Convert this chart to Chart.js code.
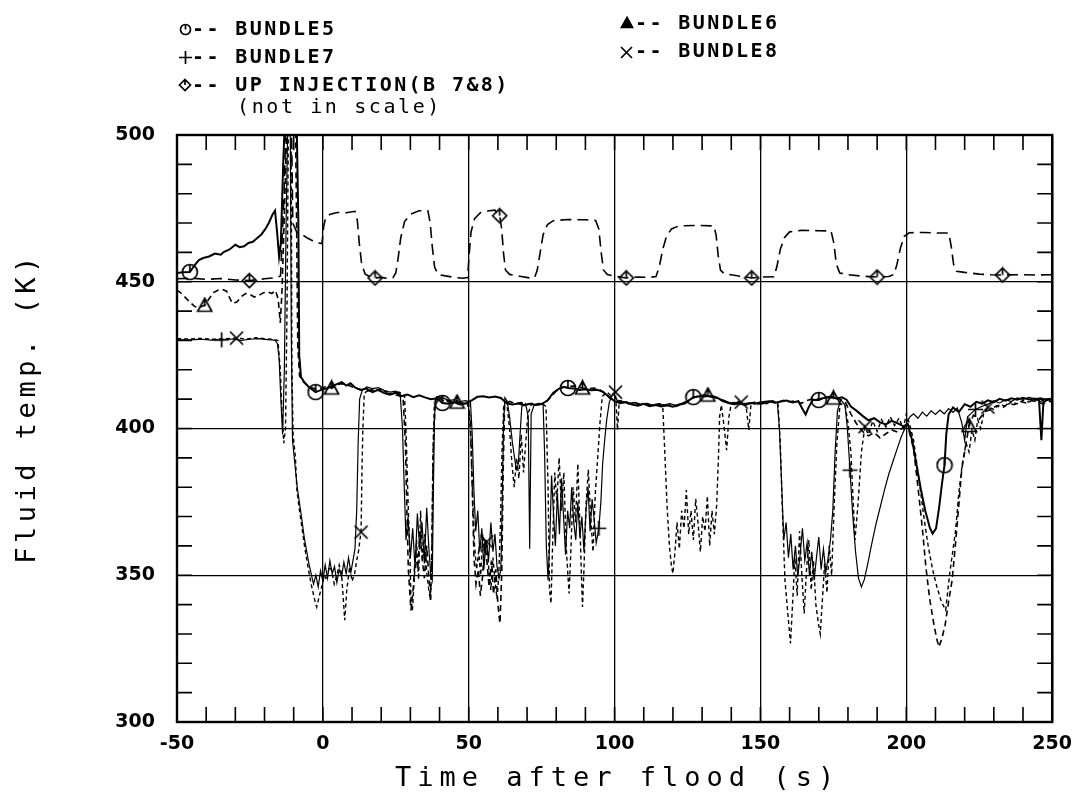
<!DOCTYPE html>
<html>
<head>
<meta charset="utf-8">
<script src="https://cdn.jsdelivr.net/npm/chart.js@4.4.1/dist/chart.umd.min.js"></script>
<style>
  html, body { margin: 0; padding: 0; background: #fff; }
</style>
</head>
<body>
<canvas id="fluidChart" width="1083" height="796"></canvas>
<script>
// time (s), fluid temperature (K)
var bundle5 = [[-50,453.0],[-48,453.2],[-45.6,453.3],[-44,455.6],[-42.5,457.4],[-41,458.1],[-39,458.6],[-37,459.6],[-35,459.2],[-34,460.1],[-32,461.0],[-30,462.6],[-28.5,461.8],[-27,462.1],[-25.5,463.2],[-24,463.6],[-22.5,464.9],[-21,466.2],[-19.5,468.3],[-18.5,470.1],[-17.3,472.8],[-16.4,474.2],[-15.6,466.0],[-15.0,458.5],[-14.4,463.0],[-13.6,490.0],[-13.0,506],[-9.0,506],[-8.4,470],[-8.1,425],[-7.5,417.5],[-6.5,416.0],[-5.0,414.3],[-2.5,412.4],[-1.0,413.0],[1.0,413.6],[3.0,414.3],[5.0,415.2],[6.5,415.8],[8.0,414.6],[9.5,415.4],[11.0,414.0],[13.0,413.1],[15.0,413.6],[17.0,412.4],[19.0,413.2],[21.0,412.1],[23.0,411.5],[25.0,412.2],[27.0,411.0],[29.0,411.6],[31.0,410.7],[33.0,411.3],[35.0,410.6],[37.0,410.0],[39.0,410.3],[41.0,408.7],[43.0,408.4],[45.0,408.9],[47.0,408.2],[49.0,408.5],[51.0,409.6],[53.0,410.8],[55.0,411.0],[57.0,410.6],[59.0,410.9],[61.0,410.4],[63.0,408.6],[65.0,408.2],[67.0,408.5],[69.0,407.9],[71.0,408.4],[73.0,408.0],[75.0,408.3],[77.0,409.5],[79.0,412.2],[81.0,413.6],[82.5,414.2],[84.0,413.8],[86.0,413.6],[88.0,413.1],[90.0,413.4],[92.0,413.0],[94.0,413.2],[96.0,412.6],[98.0,410.8],[100.0,409.3],[102.0,408.6],[104.0,409.0],[106.0,408.2],[108.0,407.8],[110.0,408.4],[112.0,407.6],[114.0,408.0],[116.0,407.5],[118.0,407.9],[120.0,407.4],[122.0,408.1],[124.0,408.5],[127.0,410.7],[129.0,410.9],[131.0,411.2],[133.0,410.8],[135.0,410.6],[137.0,409.4],[139.0,408.7],[141.0,408.3],[143.0,408.6],[145.0,408.2],[147.0,408.7],[149.0,408.4],[151.0,409.0],[153.0,409.3],[155.0,408.8],[157.0,409.2],[159.0,409.5],[161.0,408.9],[163.0,409.3],[164.5,406.5],[165.5,404.8],[166.5,407.2],[168.0,409.8],[170.0,409.7],[172.0,410.5],[174.0,410.9],[176.0,410.2],[178.0,410.6],[179.5,409.8],[181.0,407.5],[183.0,406.0],[185.0,404.3],[187.0,402.8],[189.0,403.5],[191.0,402.1],[193.0,401.4],[195.0,402.6],[197.0,401.8],[199.0,400.7],[200.5,401.5],[202.0,396.0],[203.5,387.5],[205.0,379.2],[206.5,372.0],[208.0,366.4],[209.0,364.2],[210.2,366.0],[211.3,373.5],[212.3,381.8],[213.1,387.5],[213.7,398.0],[214.5,404.8],[216.0,407.2],[218.0,405.6],[220.0,408.3],[222.0,407.4],[224.0,409.1],[226.0,408.5],[228.0,409.6],[230.0,409.0],[232.0,410.1],[234.0,409.5],[236.0,410.3],[238.0,409.8],[240.0,410.5],[242.0,409.9],[244.0,410.2],[245.5,409.6],[246.3,396.0],[247.0,409.0],[249.0,410.1],[250.0,409.8]];

var bundle6 = [[-50,447.2],[-48.5,446.0],[-47,444.5],[-45.5,443.0],[-44,441.6],[-42.5,441.2],[-40.5,442.0],[-39,444.2],[-37.5,446.3],[-36,447.1],[-34.5,447.4],[-33,446.8],[-32,444.6],[-31,442.6],[-29.5,443.1],[-28,444.9],[-26.5,446.0],[-25,445.7],[-23.5,444.8],[-22,445.3],[-20.5,446.2],[-19,446.6],[-17.5,446.0],[-16.2,447.0],[-15.3,444.0],[-14.6,436.0],[-14.0,447.0],[-13.0,480.0],[-12.3,506],[-9.4,506],[-9.0,470],[-8.6,428],[-8.0,418.0],[-7.0,416.2],[-5.5,414.8],[-4.0,414.0],[-2.0,413.2],[0.0,413.8],[1.5,414.6],[3.0,413.8],[4.5,414.4],[6.0,415.3],[8.0,415.0],[10.0,414.2],[12.0,413.5],[14.0,413.0],[16.0,412.8],[18.0,413.4],[20.0,412.6],[22.0,412.0],[24.0,411.6],[26.0,411.2],[27.5,410.5],[28.3,395.0],[28.8,372.0],[29.3,352.0],[30.2,338.0],[31.0,346.0],[31.8,358.0],[32.5,352.0],[33.3,365.0],[34.0,356.0],[34.8,349.0],[35.6,360.0],[36.3,350.0],[36.9,341.5],[37.4,360.0],[37.9,395.0],[38.5,408.5],[40.0,410.2],[42.0,409.6],[44.0,409.3],[46.0,409.0],[48.0,408.6],[49.5,408.9],[50.5,404.0],[51.2,380.0],[51.8,356.0],[52.5,347.0],[53.3,352.0],[54.0,343.0],[54.8,350.0],[55.5,362.0],[56.3,354.0],[57.0,346.0],[57.8,355.0],[58.5,343.5],[59.3,352.0],[60.0,340.0],[60.7,333.6],[61.3,350.0],[61.8,385.0],[62.3,408.0],[64.0,409.2],[66.0,408.5],[68,408.8],[70,408.2],[72,408.6],[74,408.1],[76,408.8],[78,410.5],[80,412.8],[82,413.9],[84,414.3],[86,414.5],[89,413.8],[91,413.5],[93,413.8],[95,413.1],[97,411.6],[99,410.2],[101,409.2],[103,408.9],[105,408.4],[107,408.7],[109,407.9],[111,408.2],[113,407.8],[115,408.3],[117,407.7],[119,408.0],[121,407.5],[123,408.3],[125,409.2],[127,410.4],[129,411.3],[132,411.4],[134,411.0],[136,409.8],[138,409.0],[140,408.5],[142,408.8],[144,408.1],[146,408.5],[148,408.9],[150,408.3],[152,408.8],[154,409.4],[156,409.0],[158,409.6],[160,409.1],[162,409.4],[164,408.6],[166,409.5],[168,410.2],[170,410.0],[172,410.6],[175,410.4],[177,410.1],[179,409.2],[181,405.0],[183,401.5],[185,399.0],[187,397.5],[189,398.6],[191,396.8],[193,398.2],[195,399.5],[197,398.8],[199,400.4],[201,399.0],[202.5,393.0],[204,380.0],[205.5,366.0],[206.7,352.9],[208,342.0],[209.5,333.0],[210.5,328.0],[211.2,325.6],[212.2,328.5],[213.3,333.0],[214.5,341.0],[215.7,348.3],[216.8,360.0],[218,374.0],[219,386.0],[220.3,393.8],[221.5,401.0],[223,404.5],[225,403.2],[227,405.8],[229,406.5],[231,407.8],[233,407.0],[235,408.6],[237,408.1],[239,409.2],[241,408.7],[243,409.5],[245,409.0],[247,408.4],[249,409.3],[250,409.0]];

var bundle7 = [[-50,430.3],[-46,430.2],[-42,430.4],[-38,430.1],[-34.7,430.2],[-31,430.5],[-28,430.0],[-25,430.4],[-22,430.6],[-19,430.3],[-16.5,430.1],[-15.6,429.0],[-15.0,424.0],[-14.4,410.0],[-13.8,398.0],[-13.2,420.0],[-12.6,470],[-12.0,506],[-11.2,506],[-10.8,430],[-10.4,396.0],[-9.6,388.0],[-8.8,380.0],[-8.0,374.5],[-7.2,369.0],[-6.4,363.0],[-5.6,358.5],[-4.8,354.0],[-4.0,350.5],[-3.2,347.0],[-2.4,350.0],[-1.6,346.0],[-0.8,351.5],[0.0,348.0],[0.8,353.5],[1.6,349.0],[2.4,355.0],[3.2,350.5],[4.0,353.0],[4.8,347.5],[5.6,352.0],[6.4,349.5],[7.2,354.5],[8.0,350.5],[8.8,356.0],[9.6,351.0],[10.4,355.5],[11.0,359.0],[11.6,372.0],[12.1,395.0],[12.6,410.0],[13.5,413.0],[15,414.2],[17,413.6],[19,413.9],[21,413.0],[23,412.4],[25,412.7],[26.5,411.8],[27.3,400.0],[27.9,380.0],[28.5,362.0],[29.2,370.0],[30.0,356.0],[30.8,366.0],[31.6,352.5],[32.4,371.0],[33.2,359.0],[34.0,368.0],[34.8,354.0],[35.6,373.0],[36.4,358.0],[37.0,350.0],[37.5,348.3],[37.9,380.0],[38.3,405.0],[39,410.8],[41,410.5],[43,409.6],[45,409.8],[47,409.2],[49,409.5],[50.6,409.0],[51.2,398.0],[51.8,378.0],[52.4,365.0],[53.1,372.0],[53.8,358.0],[54.5,366.0],[55.2,352.0],[56.0,362.0],[56.8,355.0],[57.6,368.0],[58.3,358.0],[59.0,364.0],[59.7,353.0],[60.4,349.0],[61.0,352.0],[61.5,375.0],[61.9,400.0],[62.4,410.5],[63.2,409.2],[64.0,404.0],[65.0,395.0],[66.3,386.0],[67.0,388.0],[67.6,398.0],[68.2,407.5],[69.5,408.5],[70.4,404.0],[70.9,359.0],[71.4,405.0],[72.5,408.2],[74,408.6],[75.5,408.0],[76.0,392.0],[76.6,360.0],[77.2,348.3],[77.8,362.0],[78.4,384.0],[79.0,372.0],[79.7,360.0],[80.4,378.0],[81.1,364.0],[81.8,383.0],[82.5,370.0],[83.2,357.0],[83.9,372.0],[84.6,366.0],[85.3,380.0],[86.0,368.0],[86.7,362.0],[87.4,375.0],[88.1,363.0],[88.8,370.0],[89.5,358.0],[90.2,372.0],[90.9,380.0],[91.6,365.0],[92.3,376.0],[93.0,369.0],[93.7,361.0],[94.6,366.0],[95.3,375.0],[95.9,388.0],[96.6,396.0],[97.3,403.0],[98.2,409.0],[99.5,412.0],[101,409.5],[103,409.2],[105,408.6],[107,408.9],[109,408.2],[111,408.6],[113,408.0],[115,408.4],[117,408.1],[119,408.5],[121,407.9],[123,408.6],[125,409.4],[127,410.6],[129,411.0],[131,410.8],[133,411.1],[135,410.4],[137.6,409.6],[140,408.6],[142,408.9],[144,408.3],[146,408.7],[148,408.5],[150,409.1],[152,408.7],[154,409.3],[155.8,408.8],[156.5,400.0],[157.3,380.0],[158.0,362.0],[158.8,368.0],[159.6,356.0],[160.4,364.0],[161.2,352.0],[162.0,360.0],[162.8,349.5],[163.6,357.0],[164.4,366.0],[165.2,355.0],[166.0,361.0],[166.8,350.0],[167.6,358.0],[168.4,348.3],[169.2,356.0],[170.0,363.0],[170.8,352.0],[171.6,359.0],[172.4,351.0],[173.2,356.0],[174.0,362.0],[174.8,372.0],[175.6,392.0],[176.4,406.0],[177.5,409.8],[179.0,408.0],[179.8,400.0],[180.7,385.8],[181.6,371.0],[182.6,358.0],[183.6,349.0],[184.6,346.0],[185.6,348.5],[186.8,354.0],[188.0,360.0],[189.5,367.0],[191.0,373.0],[192.5,379.0],[194.0,384.5],[195.5,389.0],[197.0,393.5],[198.2,397.0],[199.3,399.5],[200.3,402.5],[201.3,404.0],[202.5,405.0],[204.0,403.5],[205.5,405.6],[207.0,404.2],[208.5,406.0],[210.0,404.8],[211.5,406.3],[213.0,405.0],[214.5,406.8],[216.0,405.5],[217.5,407.0],[219.0,402.0],[220.0,396.0],[221.0,404.0],[223.7,406.5],[226.0,407.6],[228.0,408.3],[230.0,409.4],[232.0,408.7],[234.0,409.8],[236.0,409.2],[238.0,410.4],[240.0,409.9],[242.0,410.6],[244.0,410.1],[246.0,410.4],[248.0,409.8],[250.0,410.2]];

var bundle8 = [[-50,430.6],[-46,430.5],[-42,430.7],[-38,430.4],[-34,430.6],[-29.6,430.8],[-26,430.5],[-23,430.9],[-20,430.6],[-17,430.4],[-15.4,430.0],[-14.6,420.0],[-14.0,405.0],[-13.4,395.0],[-12.8,400.0],[-12.3,440],[-11.8,506],[-10.9,506],[-10.6,420],[-10.2,398.0],[-9.4,390.0],[-8.9,379.0],[-8.0,372.0],[-7.2,366.5],[-6.3,360.0],[-5.5,355.2],[-4.6,350.0],[-3.8,346.0],[-2.9,342.0],[-2.1,339.2],[-1.2,343.0],[-0.4,346.0],[0.5,350.0],[1.3,348.3],[2.2,353.0],[3.0,351.7],[3.9,347.0],[4.7,349.5],[5.6,353.5],[6.4,350.6],[7.0,342.0],[7.5,334.7],[8.2,345.0],[9.2,352.9],[10.0,348.0],[10.9,350.6],[11.6,355.0],[12.3,358.6],[12.7,362.0],[13.1,364.7],[13.4,385.0],[13.7,399.5],[14.2,412.0],[16.0,413.4],[18.0,412.9],[20.0,413.3],[22.0,412.3],[24.0,411.9],[26.0,412.4],[28.0,411.4],[28.6,396.0],[29.2,375.0],[29.8,358.0],[30.2,342.0],[30.7,338.0],[31.4,350.0],[32.1,362.0],[32.8,348.5],[33.5,372.0],[34.2,355.0],[34.9,364.0],[35.6,351.0],[36.3,345.0],[36.9,341.5],[37.3,355.0],[37.7,390.0],[38.2,408.0],[40,409.8],[42,409.4],[44,408.8],[46,409.1],[48,408.7],[50.0,408.4],[50.8,396.0],[51.4,375.0],[52.0,360.0],[52.7,352.0],[53.4,358.0],[54.1,350.0],[54.8,364.0],[55.5,358.0],[56.2,361.4],[56.9,352.0],[57.6,345.0],[58.3,356.0],[59.0,348.0],[59.7,342.0],[60.3,350.0],[60.9,368.0],[61.4,392.0],[62.0,407.5],[63.0,409.0],[64.0,400.0],[64.8,388.0],[65.6,380.0],[66.4,390.0],[67.2,383.0],[68.0,398.0],[68.8,385.0],[69.6,396.0],[70.3,405.0],[71.5,408.3],[73.0,408.1],[75.0,408.7],[76.5,407.5],[77.2,380.0],[77.7,345.0],[78.2,340.4],[78.8,362.0],[79.5,385.0],[80.2,375.0],[81.0,390.0],[81.8,372.0],[82.6,385.0],[83.4,360.0],[84.0,350.0],[84.4,343.8],[85.0,358.0],[85.8,380.0],[86.6,368.0],[87.4,388.0],[88.2,364.0],[88.7,348.0],[89.0,339.2],[89.5,352.0],[90.2,374.0],[91.0,386.0],[91.8,370.0],[92.6,358.0],[93.4,378.0],[94.2,390.0],[95.0,402.0],[95.8,411.0],[97.5,412.3],[99.0,411.0],[100.3,412.4],[101.0,399.5],[101.6,409.5],[103.0,409.2],[105.0,408.5],[107.0,408.8],[109.0,408.1],[111.0,408.5],[113.0,407.9],[115.0,408.6],[116.5,407.8],[117.3,390.0],[118.0,373.3],[118.8,360.0],[119.5,353.0],[120.0,350.6],[120.7,358.0],[121.4,368.0],[122.2,359.0],[123.0,372.0],[123.8,366.0],[124.6,379.0],[125.4,364.0],[126.2,372.0],[127.0,362.0],[127.8,376.0],[128.6,368.0],[129.4,358.0],[130.2,370.0],[131.0,365.0],[131.8,377.0],[132.6,360.0],[133.4,372.0],[134.2,364.0],[135.0,374.0],[135.6,390.0],[136.0,404.0],[136.6,408.0],[137.5,401.0],[138.4,392.6],[139.2,404.0],[140.0,408.5],[142.0,409.3],[143.4,409.0],[145.0,408.4],[146.0,399.5],[146.8,408.8],[148.5,408.2],[150.0,408.9],[152.0,408.4],[154.0,409.0],[156.0,408.7],[156.8,395.0],[157.6,370.0],[158.4,348.3],[159.3,338.0],[160.3,326.8],[161.0,340.0],[161.8,356.0],[162.6,343.0],[163.4,365.0],[164.2,350.0],[165.0,337.0],[165.8,352.0],[166.6,362.0],[167.4,345.0],[168.2,355.0],[169.0,340.0],[169.8,334.0],[170.5,330.0],[171.2,341.0],[172.0,354.0],[172.8,344.0],[173.6,360.0],[174.4,350.0],[175.2,372.0],[176.2,395.0],[177.3,408.5],[179.0,408.0],[180.0,402.0],[181.0,392.0],[182.4,362.0],[183.5,375.0],[184.6,392.0],[185.8,400.6],[187.0,398.0],[188.5,402.5],[190.0,399.0],[191.5,403.0],[193.0,400.5],[194.5,404.0],[196.0,401.0],[197.5,403.5],[199.0,400.0],[200.0,405.0],[201.0,402.0],[202.5,396.0],[204.4,382.4],[206.0,370.0],[207.5,360.0],[209.0,352.0],[210.5,346.0],[212.0,341.0],[213.5,338.1],[214.8,350.0],[215.9,358.0],[216.9,365.4],[218.0,378.0],[219.2,388.0],[220.5,395.0],[221.5,392.0],[222.5,399.5],[223.5,396.0],[224.5,403.0],[225.5,400.0],[226.5,405.0],[228.0,407.3],[230.0,406.5],[232.0,408.2],[234.0,407.6],[236.0,409.0],[238.0,408.4],[240.0,409.6],[242.0,409.0],[244.0,409.8],[246.0,409.2],[248.0,410.0],[250.0,409.5]];

// upper plenum injection, drawn on the same axis (not in scale)
var upInjection = [[-50,451],[-45,451.2],[-40,450.8],[-35,451.1],[-30,450.6],[-25.2,450.4],[-20,451],[-16,451.4],[-14.5,452],[-13.3,480],[-12.6,506],[-10.8,506],[-10.3,470],[-9,467],[-7.5,466.4],[-5.5,465],[-3.5,464],[-1.5,463.2],[-0.3,463],[0.3,469],[1,472],[2.5,473],[5,473.6],[8,473.5],[11,474],[11.8,471],[12.5,463],[13.3,456],[14.5,452.6],[16,451.8],[17.9,451.3],[20,451.5],[22,451.2],[24,451.4],[25,453],[25.8,458],[26.7,465],[28,470.5],[30,473],[33,474.2],[36,474.2],[36.8,470],[37.5,462],[38.3,455],[39.5,452.5],[42,452],[45,451.5],[48,451.2],[49.6,451.4],[50.2,460],[50.8,467],[52,471.5],[54,473.5],[57,474.2],[59,474.4],[60.6,472.5],[61.3,468],[61.9,460],[62.6,454],[64,452.5],[68,451.8],[71,451.3],[72.6,451.5],[73.5,454],[74.5,460],[75.5,466],[77,469.5],[79,470.8],[84,471.2],[90,471.1],[93.5,470.9],[94.6,468],[95.4,460],[96.2,454],[97.5,452.5],[100,451.9],[104,451.3],[108,451.6],[112,451.5],[114.2,451.8],[115.3,455],[116.5,461],[117.8,465.5],[119.5,468],[122,469],[128,469.2],[134,469],[134.8,466],[135.5,459],[136.3,454],[137.5,452.8],[141,452.2],[147,451.3],[151,451.6],[154.6,451.7],[155.6,455],[156.8,461],[158.2,465],[160,467],[164,467.5],[170,467.4],[174.2,467.3],[175.2,463],[176,456],[177.2,453],[180,452.4],[185,451.9],[190,451.6],[194,451.8],[195.8,452.5],[196.8,456],[198,461.5],[199.3,465.5],[201,466.7],[206,466.8],[211,466.6],[214.6,466.6],[215.4,462],[216.2,456],[217.2,453.6],[220,453.2],[225,452.6],[229,452.4],[233,452.3],[238,452.4],[244,452.3],[250,452.4]];

// times at which the plotter put a symbol on each curve
var bundle5Marks = [-45.6, -2.5, 41, 84, 127, 170, 213.1];
var bundle6Marks = [-40.5, 3, 46, 89, 132, 175, 221.5];
var bundle7Marks = [-34.7, 94.6, 180.7, 223.7];
var bundle8Marks = [-29.6, 13.1, 56.2, 100.3, 143.4, 185.8, 228];
var upMarks = [-25.2, 17.9, 60.6, 104, 147, 190, 233];

var xMin = -50, xMax = 250, yMin = 300, yMax = 500;

function toPoints(pairs) {
  return pairs.map(function (p) { return { x: p[0], y: p[1] }; });
}

// little plotter symbols, drawn once on off-screen canvases
function makeSymbol(kind, size, filled) {
  var c = document.createElement('canvas');
  c.width = size; c.height = size;
  var g = c.getContext('2d');
  var m = size / 2;
  g.strokeStyle = '#000';
  g.fillStyle = '#000';
  g.lineWidth = 1.7;
  g.beginPath();
  if (kind === 'circle') {
    g.arc(m, m, m - 1.5, 0, Math.PI * 2);
    g.moveTo(m, 1.5); g.lineTo(m, m);
  } else if (kind === 'triangle') {
    g.moveTo(m, 1.5); g.lineTo(size - 1.5, size - 2.5); g.lineTo(1.5, size - 2.5); g.closePath();
    if (filled) g.fill();
    g.moveTo(m, 2); g.lineTo(m, m + 1);
  } else if (kind === 'plus') {
    g.moveTo(m, 1); g.lineTo(m, size - 1);
    g.moveTo(1, m); g.lineTo(size - 1, m);
  } else if (kind === 'cross') {
    g.moveTo(2, 2); g.lineTo(size - 2, size - 2);
    g.moveTo(size - 2, 2); g.lineTo(2, size - 2);
  } else if (kind === 'diamond') {
    g.moveTo(m, 1.5); g.lineTo(size - 1.5, m); g.lineTo(m, size - 1.5); g.lineTo(1.5, m); g.closePath();
    g.moveTo(m, 1.5); g.lineTo(m, m);
  }
  g.stroke();
  return c;
}

var symCircle = makeSymbol('circle', 18);
var symTriangle = makeSymbol('triangle', 17);
var symPlus = makeSymbol('plus', 17);
var symCross = makeSymbol('cross', 17);
var symDiamond = makeSymbol('diamond', 17);

function markRadius(marks) {
  return function (ctx) {
    return ctx.raw && marks.indexOf(ctx.raw.x) >= 0 ? 8 : 0;
  };
}

function series(label, pairs, marks, symbol, width, dash) {
  return {
    label: label,
    data: toPoints(pairs),
    borderColor: '#000',
    backgroundColor: '#000',
    borderWidth: width,
    borderDash: dash,
    pointStyle: symbol,
    pointRadius: markRadius(marks),
    pointHoverRadius: 0,
    tension: 0,
    clip: 0
  };
}

// inward ticks, closed frame, legend block and axis titles
var plotterFrame = {
  id: 'plotterFrame',
  afterDraw: function (chart) {
    var ctx = chart.ctx, a = chart.chartArea;
    var sx = chart.scales.x, sy = chart.scales.y;
    ctx.save();
    ctx.strokeStyle = '#000';
    ctx.lineWidth = 1.6;
    ctx.beginPath();
    sx.ticks.forEach(function (t) {
      var px = sx.getPixelForValue(t.value);
      ctx.moveTo(px, a.bottom); ctx.lineTo(px, a.bottom - 15);
      ctx.moveTo(px, a.top); ctx.lineTo(px, a.top + 15);
    });
    sy.ticks.forEach(function (t) {
      var py = sy.getPixelForValue(t.value);
      ctx.moveTo(a.left, py); ctx.lineTo(a.left + 15, py);
      ctx.moveTo(a.right, py); ctx.lineTo(a.right - 15, py);
    });
    ctx.stroke();
    ctx.lineWidth = 2.4;
    ctx.strokeRect(a.left, a.top, a.right - a.left, a.bottom - a.top);

    // legend
    ctx.fillStyle = '#000';
    ctx.textAlign = 'left';
    ctx.textBaseline = 'middle';
    ctx.font = 'bold 20px "DejaVu Sans Mono"';
    ctx.letterSpacing = '2.4px';
    ctx.drawImage(makeSymbol('circle', 13), 179, 23);
    ctx.fillText('-- BUNDLE5', 192, 30);
    ctx.drawImage(makeSymbol('plus', 15), 178, 50);
    ctx.fillText('-- BUNDLE7', 192, 58);
    ctx.drawImage(makeSymbol('diamond', 14), 178, 78);
    ctx.fillText('-- UP INJECTION(B 7&8)', 192, 86);
    ctx.drawImage(makeSymbol('triangle', 14, true), 620, 16);
    ctx.fillText('-- BUNDLE6', 635, 24);
    ctx.drawImage(makeSymbol('cross', 15), 619, 45);
    ctx.fillText('-- BUNDLE8', 635, 52);
    ctx.font = '20px "DejaVu Sans Mono"';
    ctx.letterSpacing = '2.6px';
    ctx.fillText('(not in scale)', 237, 108);

    // axis titles
    ctx.textAlign = 'center';
    ctx.font = '27px "DejaVu Sans Mono"';
    ctx.letterSpacing = '6px';
    ctx.fillText('Time after flood (s)', (a.left + a.right) / 2 + 3, 779);
    ctx.letterSpacing = '4.5px';
    ctx.translate(28, 408);
    ctx.rotate(-Math.PI / 2);
    ctx.fillText('Fluid temp. (K)', 0, 0);
    ctx.restore();
  }
};

var tickFont = { family: 'DejaVu Sans', weight: 'bold', size: 19 };

function majorOnly(v) { return v % 50 === 0 ? String(v) : ''; }
function majorGrid(ctx) {
  return ctx.tick && ctx.tick.value % 50 === 0 ? '#000' : 'rgba(0,0,0,0)';
}

new Chart(document.getElementById('fluidChart'), {
  type: 'line',
  data: {
    datasets: [
      series('BUNDLE5', bundle5, bundle5Marks, symCircle, 2.0, []),
      series('BUNDLE6', bundle6, bundle6Marks, symTriangle, 1.6, [6, 4]),
      series('BUNDLE7', bundle7, bundle7Marks, symPlus, 1.2, []),
      series('BUNDLE8', bundle8, bundle8Marks, symCross, 1.4, [4, 3]),
      series('UP INJECTION(B 7&8)', upInjection, upMarks, symDiamond, 1.6, [11, 6])
    ]
  },
  options: {
    responsive: false,
    animation: false,
    events: [],
    layout: { padding: { top: 135, right: 22, left: 0, bottom: 0 } },
    plugins: {
      legend: { display: false },
      tooltip: { enabled: false }
    },
    scales: {
      x: {
        type: 'linear',
        min: xMin,
        max: xMax,
        afterFit: function (s) { s.height = 74; },
        border: { display: false },
        grid: { color: majorGrid, lineWidth: 1.3, drawTicks: false },
        ticks: {
          stepSize: 10, autoSkip: false, maxRotation: 0,
          callback: majorOnly, font: tickFont, color: '#000', padding: 11
        }
      },
      y: {
        type: 'linear',
        min: yMin,
        max: yMax,
        afterFit: function (s) { s.width = 177; },
        border: { display: false },
        grid: { color: majorGrid, lineWidth: 1.3, drawTicks: false },
        ticks: {
          stepSize: 10, autoSkip: false,
          callback: majorOnly, font: tickFont, color: '#000', padding: 22
        }
      }
    }
  },
  plugins: [plotterFrame]
});
</script>
</body>
</html>
